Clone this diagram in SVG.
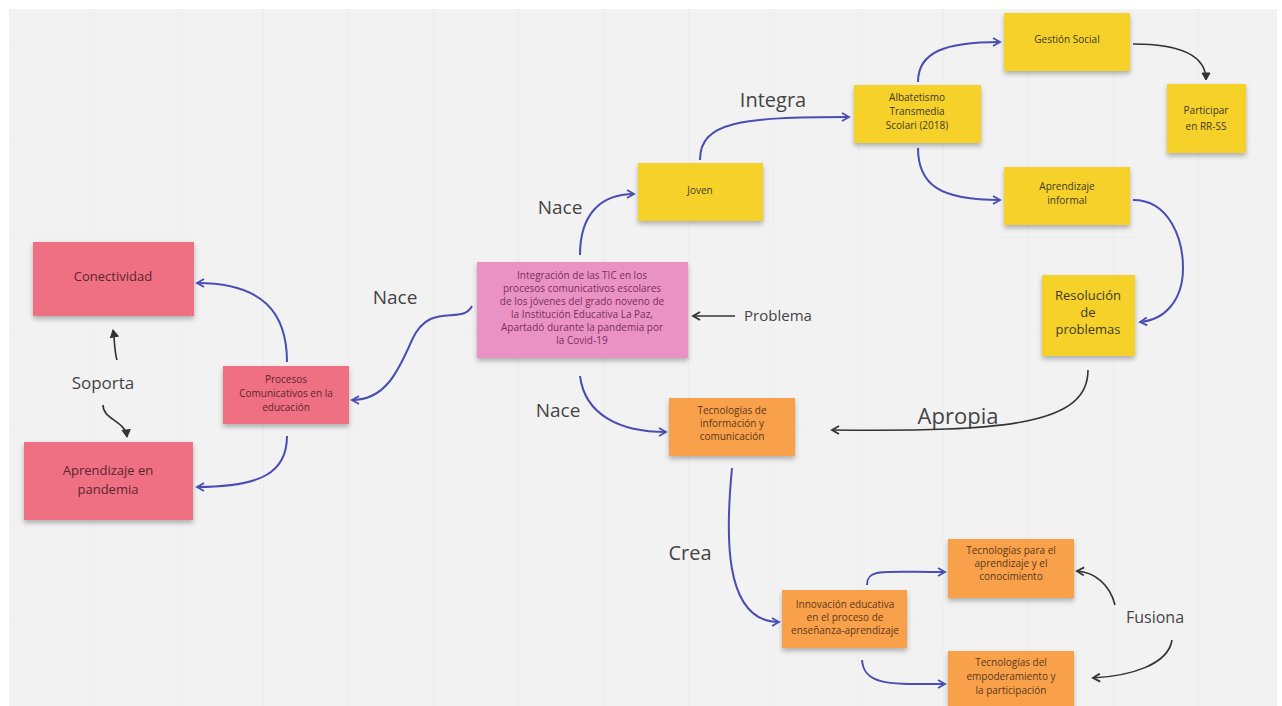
<svg xmlns="http://www.w3.org/2000/svg" width="1282" height="706" viewBox="0 0 1282 706">
<defs>
<filter id="sh" x="-10%" y="-10%" width="120%" height="140%">
<feDropShadow dx="0" dy="3" stdDeviation="2.5" flood-color="#000" flood-opacity="0.28"/>
</filter>
<marker id="ab" viewBox="0 0 10 10" refX="8" refY="5" markerWidth="10" markerHeight="10" markerUnits="userSpaceOnUse" orient="auto">
<path d="M1,1 L8,5 L1,9" fill="none" stroke="#4a4db3" stroke-width="1.8"/>
</marker>
<marker id="ad" viewBox="0 0 10 10" refX="8" refY="5" markerWidth="10" markerHeight="10" markerUnits="userSpaceOnUse" orient="auto">
<path d="M1,1 L8,5 L1,9 Z" fill="#333" stroke="#333" stroke-width="1"/>
</marker>
<marker id="ao" viewBox="0 0 10 10" refX="8" refY="5" markerWidth="10" markerHeight="10" markerUnits="userSpaceOnUse" orient="auto">
<path d="M1,1 L8,5 L1,9" fill="none" stroke="#333" stroke-width="1.8"/>
</marker>
<pattern id="grid" width="85" height="95" patternUnits="userSpaceOnUse" x="8" y="-48">
<path d="M0,0 H85 M0,0 V95" fill="none" stroke="#e9e9e9" stroke-width="1.2"/>
</pattern>
</defs>
<style>
.y{fill:#f5d12a;filter:url(#sh)}
.o{fill:#f9a04b;filter:url(#sh)}
.r{fill:#ef6f82;filter:url(#sh)}
.p{fill:#ea92c3;filter:url(#sh)}
.t{font-family:"Open Sans","Noto Sans",sans-serif;font-size:10px;fill:#3d3a2a;text-anchor:middle}
.tr{fill:#5a2630}
.tp{fill:#7a2f5e}
.to{fill:#5a3a1a}
.big{font-size:13px}
.lab{font-family:"Open Sans","Noto Sans",sans-serif;fill:#444;text-anchor:middle}
.cb{fill:none;stroke:#4a4db3;stroke-width:2;marker-end:url(#ab)}
.cd{fill:none;stroke:#333;stroke-width:1.6}
</style>
<rect width="1282" height="706" fill="#ffffff"/>
<rect x="9" y="9" width="1268" height="697" fill="#f2f2f2"/>
<rect x="9" y="9" width="1268" height="697" fill="url(#grid)"/>

<g id="connectors">
<path class="cb" d="M700,160 C700,122 740,117 849,117"/>
<path class="cb" d="M918,82 C918,52 945,42 1000,42"/>
<path class="cd" marker-end="url(#ad)" d="M1133,44 C1180,44 1206,55 1206,80"/>
<path class="cb" d="M918,148 C918,185 940,200 1000,200"/>
<path class="cb" d="M1133,200 C1170,200 1183,240 1183,268 C1183,300 1165,320 1140,322"/>
<path class="cd" marker-end="url(#ao)" d="M1088,370 C1088,424 1010,432 832,430"/>
<path class="cb" d="M580,255 C580,215 600,194 634,194"/>
<path class="cb" d="M472,306 C462,326 430,300 412,340 C398,372 385,400 352,400"/>
<path class="cb" d="M580,376 C585,415 620,432 666,432"/>
<path class="cb" d="M732,468 C726,530 722,622 779,622"/>
<path class="cb" d="M867,585 C867,568 882,572 945,572"/>
<path class="cb" d="M862,660 C864,686 890,684 945,684"/>
<path class="cb" d="M287,362 C287,312 262,283 197,283"/>
<path class="cb" d="M287,436 C287,472 262,487 197,487"/>
<path class="cd" marker-end="url(#ad)" d="M117,360 C114,350 115,340 113,330"/>
<path class="cd" marker-end="url(#ad)" d="M103,405 C103,420 125,420 127,437"/>
<path class="cd" marker-end="url(#ao)" d="M735,316 L693,316"/>
<path class="cd" marker-end="url(#ao)" d="M1115,605 C1110,585 1095,572 1077,571"/>
<path class="cd" marker-end="url(#ao)" d="M1172,640 C1168,665 1130,676 1093,678"/>
</g>

<g id="labels">
<text class="lab" x="773" y="107" font-size="20">Integra</text>
<text class="lab" x="560" y="214" font-size="19">Nace</text>
<text class="lab" x="395" y="304" font-size="19">Nace</text>
<text class="lab" x="558" y="417" font-size="19">Nace</text>
<text class="lab" x="778" y="321" font-size="15">Problema</text>
<text class="lab" x="958" y="424" font-size="22">Apropia</text>
<text class="lab" x="690" y="560" font-size="20">Crea</text>
<text class="lab" x="1155" y="623" font-size="16">Fusiona</text>
<text class="lab" x="103" y="389" font-size="17">Soporta</text>
</g>

<g id="gestion"><rect class="y" x="1004" y="13" width="126" height="58"/><text class="t" x="1067" y="43">Gestión Social</text></g>
<g id="albatetismo"><rect class="y" x="854" y="85" width="127" height="58"/><text class="t" x="917" y="101">Albatetismo</text><text class="t" x="917" y="115">Transmedia</text><text class="t" x="917" y="129">Scolari (2018)</text></g>
<g id="participar"><rect class="y" x="1167" y="84" width="79" height="69"/><text class="t" x="1206" y="114" font-size="12">Participar</text><text class="t" x="1206" y="130" font-size="12">en RR-SS</text></g>
<g id="joven"><rect class="y" x="638" y="163" width="125" height="58"/><text class="t" x="700" y="194">Joven</text></g>
<g id="aprendizaje-informal"><rect class="y" x="1004" y="167" width="126" height="58"/><text class="t" x="1067" y="190">Aprendizaje</text><text class="t" x="1067" y="204">informal</text></g>
<g id="resolucion"><rect class="y" x="1042" y="275" width="93" height="81"/><text class="t big" x="1088" y="300">Resolución</text><text class="t big" x="1088" y="317">de</text><text class="t big" x="1088" y="334">problemas</text></g>

<g id="integracion"><rect class="p" x="477" y="262" width="211" height="96"/>
<text class="t tp" x="582" y="279">Integración de las TIC en los</text>
<text class="t tp" x="582" y="292">procesos comunicativos escolares</text>
<text class="t tp" x="582" y="305">de los jóvenes del grado noveno de</text>
<text class="t tp" x="582" y="318">la Institución Educativa La Paz,</text>
<text class="t tp" x="582" y="331">Apartadó durante la pandemia por</text>
<text class="t tp" x="582" y="344">la Covid-19</text></g>

<g id="tic"><rect class="o" x="669" y="398" width="126" height="58"/><text class="t to" x="732" y="414">Tecnologías de</text><text class="t to" x="732" y="427">información y</text><text class="t to" x="732" y="440">comunicación</text></g>
<g id="innovacion"><rect class="o" x="782" y="590" width="125" height="58"/><text class="t to" x="845" y="608">Innovación educativa</text><text class="t to" x="845" y="621">en el proceso de</text><text class="t to" x="845" y="634">enseñanza-aprendizaje</text></g>
<g id="tac"><rect class="o" x="948" y="539" width="126" height="59"/><text class="t to" x="1011" y="554">Tecnologías para el</text><text class="t to" x="1011" y="567">aprendizaje y el</text><text class="t to" x="1011" y="580">conocimiento</text></g>
<g id="tep"><rect class="o" x="948" y="651" width="126" height="55"/><text class="t to" x="1011" y="666">Tecnologías del</text><text class="t to" x="1011" y="680">empoderamiento y</text><text class="t to" x="1011" y="694">la participación</text></g>

<g id="conectividad"><rect class="r" x="33" y="242" width="161" height="74"/><text class="t tr big" x="113" y="281">Conectividad</text></g>
<g id="procesos"><rect class="r" x="223" y="366" width="126" height="58"/><text class="t tr" x="286" y="383">Procesos</text><text class="t tr" x="286" y="397">Comunicativos en la</text><text class="t tr" x="286" y="411">educación</text></g>
<g id="pandemia"><rect class="r" x="24" y="442" width="169" height="78"/><text class="t tr big" x="108" y="475">Aprendizaje en</text><text class="t tr big" x="108" y="494">pandemia</text></g>
</svg>
